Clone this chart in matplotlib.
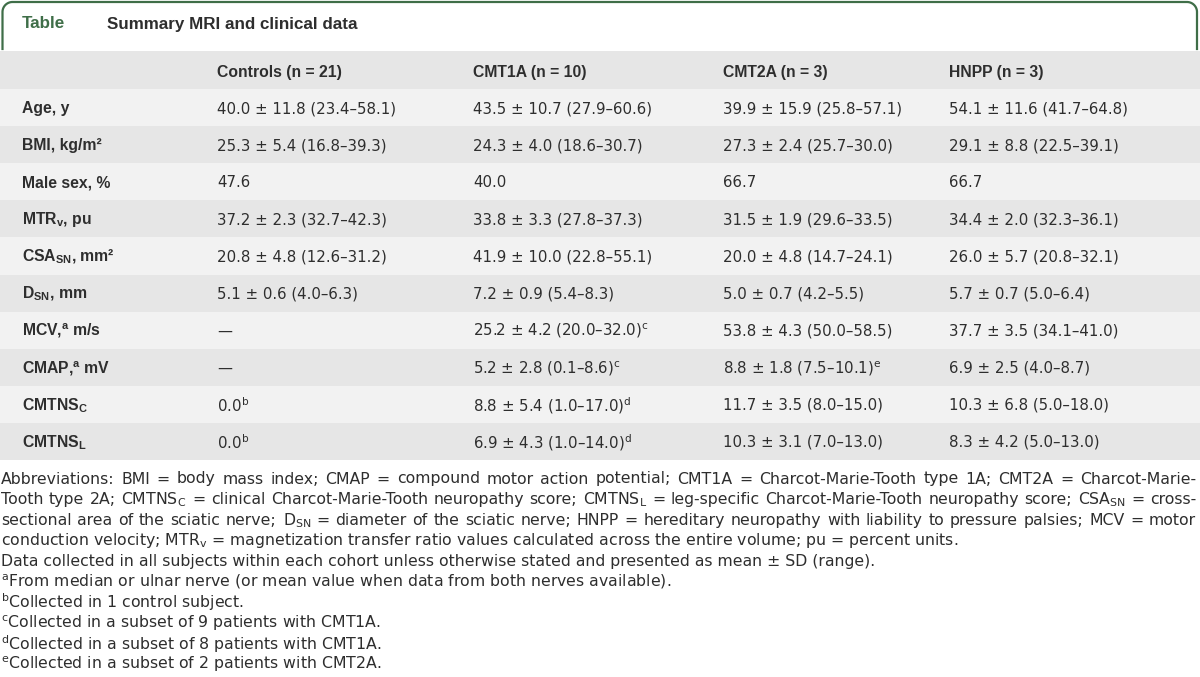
import numpy as np
import matplotlib
matplotlib.use("Agg")
import matplotlib.pyplot as plt
from matplotlib.patches import Rectangle
from matplotlib.lines import Line2D

plt.rcParams['font.family'] = ['DejaVu Sans']
plt.rcParams['mathtext.fontset'] = 'custom'
plt.rcParams['mathtext.rm'] = 'DejaVu Sans'

W, H = 1200, 677
TXT = '#2e2e2e'
GREEN = '#3f6e48'
BOLD_FONT = ['Liberation Sans', 'DejaVu Sans']

# table content
columns = ['Controls (n = 21)', 'CMT1A (n = 10)', 'CMT2A (n = 3)', 'HNPP (n = 3)']
row_labels = [
    'Age, y',
    'BMI, kg/m²',
    'Male sex, %',
    r'MTR$_\mathregular{v}$, pu',
    r'CSA$_\mathregular{SN}$, mm²',
    r'D$_\mathregular{SN}$, mm',
    r'MCV,$^\mathregular{a}$ m/s',
    r'CMAP,$^\mathregular{a}$ mV',
    r'CMTNS$_\mathregular{C}$',
    r'CMTNS$_\mathregular{L}$',
]
controls = ['40.0 ± 11.8 (23.4–58.1)', '25.3 ± 5.4 (16.8–39.3)', '47.6',
            '37.2 ± 2.3 (32.7–42.3)', '20.8 ± 4.8 (12.6–31.2)', '5.1 ± 0.6 (4.0–6.3)',
            '—', '—', r'0.0$^\mathregular{b}$', r'0.0$^\mathregular{b}$']
cmt1a = ['43.5 ± 10.7 (27.9–60.6)', '24.3 ± 4.0 (18.6–30.7)', '40.0',
         '33.8 ± 3.3 (27.8–37.3)', '41.9 ± 10.0 (22.8–55.1)', '7.2 ± 0.9 (5.4–8.3)',
         r'25.2 ± 4.2 (20.0–32.0)$^\mathregular{c}$', r'5.2 ± 2.8 (0.1–8.6)$^\mathregular{c}$',
         r'8.8 ± 5.4 (1.0–17.0)$^\mathregular{d}$', r'6.9 ± 4.3 (1.0–14.0)$^\mathregular{d}$']
cmt2a = ['39.9 ± 15.9 (25.8–57.1)', '27.3 ± 2.4 (25.7–30.0)', '66.7',
         '31.5 ± 1.9 (29.6–33.5)', '20.0 ± 4.8 (14.7–24.1)', '5.0 ± 0.7 (4.2–5.5)',
         '53.8 ± 4.3 (50.0–58.5)', r'8.8 ± 1.8 (7.5–10.1)$^\mathregular{e}$',
         '11.7 ± 3.5 (8.0–15.0)', '10.3 ± 3.1 (7.0–13.0)']
hnpp = ['54.1 ± 11.6 (41.7–64.8)', '29.1 ± 8.8 (22.5–39.1)', '66.7',
        '34.4 ± 2.0 (32.3–36.1)', '26.0 ± 5.7 (20.8–32.1)', '5.7 ± 0.7 (5.0–6.4)',
        '37.7 ± 3.5 (34.1–41.0)', '6.9 ± 2.5 (4.0–8.7)',
        '10.3 ± 6.8 (5.0–18.0)', '8.3 ± 4.2 (5.0–13.0)']

# footnotes: justified paragraph lines, then plain lines
abbrev_lines = [
    'Abbreviations: BMI = body mass index; CMAP = compound motor action potential; CMT1A = Charcot-Marie-Tooth type 1A; CMT2A = Charcot-Marie-',
    r'Tooth type 2A; CMTNS$_\mathregular{C}$ = clinical Charcot-Marie-Tooth neuropathy score; CMTNS$_\mathregular{L}$ = leg-specific Charcot-Marie-Tooth neuropathy score; CSA$_\mathregular{SN}$ = cross-',
    r'sectional area of the sciatic nerve; D$_\mathregular{SN}$ = diameter of the sciatic nerve; HNPP = hereditary neuropathy with liability to pressure palsies; MCV = motor',
    r'conduction velocity; MTR$_\mathregular{v}$ = magnetization transfer ratio values calculated across the entire volume; pu = percent units.',
]
notes = [
    'Data collected in all subjects within each cohort unless otherwise stated and presented as mean ± SD (range).',
    r'$^\mathregular{a}$From median or ulnar nerve (or mean value when data from both nerves available).',
    r'$^\mathregular{b}$Collected in 1 control subject.',
    r'$^\mathregular{c}$Collected in a subset of 9 patients with CMT1A.',
    r'$^\mathregular{d}$Collected in a subset of 8 patients with CMT1A.',
    r'$^\mathregular{e}$Collected in a subset of 2 patients with CMT2A.',
]

fig = plt.figure(figsize=(W / 100, H / 100), dpi=100)
fig.patch.set_facecolor('white')
renderer = fig.canvas.get_renderer()


def fx(x):
    return x / W


def fy(y):
    return 1 - y / H


def put(x, y, s, **kw):
    kw.setdefault('color', TXT)
    kw.setdefault('va', 'center')
    return fig.text(fx(x), fy(y), s, **kw)


def put_bold(x, y, s, size, **kw):
    return put(x, y, s, fontsize=size, fontweight='bold', family=BOLD_FONT, **kw)


# pick bold sizes so that header / title widths match the original
probe = put_bold(0, 0, 'Controls (n = 21)', 10)
bold_size = 10 * 125 / probe.get_window_extent(renderer).width
probe.remove()
probe = put_bold(0, 0, 'Summary MRI and clinical data', 10)
title_size = 10 * 250 / probe.get_window_extent(renderer).width
probe.remove()

# green frame with rounded top corners
r = 10
left, right, top, bot = 2.5, 1197, 2, 49
th = np.linspace(np.pi, np.pi / 2, 20)
xs = [left, left] + list(left + r + r * np.cos(th)) + list(right - r - r * np.cos(th[::-1])) + [right]
ys = [bot, top + r] + list(top + r - r * np.sin(th)) + list(top + r - r * np.sin(th[::-1])) + [bot]
fig.add_artist(Line2D([fx(v) for v in xs], [fy(v) for v in ys], color=GREEN, lw=1.6,
                      transform=fig.transFigure))

put_bold(22, 24, 'Table', title_size, color=GREEN)
put_bold(107, 24, 'Summary MRI and clinical data', title_size)

# header band and rows
row_h = 37.1
head_top, head_bot = 51, 89
fig.add_artist(Rectangle((0, fy(head_bot)), 1, (head_bot - head_top) / H,
                         transform=fig.transFigure, color='#e6e6e6', lw=0))
col_x = [217, 473, 723, 949]
for cx, name in zip(col_x, columns):
    put_bold(cx, 72, name, bold_size)

data_cols = [controls, cmt1a, cmt2a, hnpp]
for i, lab in enumerate(row_labels):
    y0 = head_bot + i * row_h
    fig.add_artist(Rectangle((0, fy(y0 + row_h)), 1, row_h / H, transform=fig.transFigure,
                             color='#f2f2f2' if i % 2 == 0 else '#e6e6e6', lw=0))
    yc = y0 + row_h / 2 + 1
    put_bold(22, yc, lab, bold_size)
    for cx, col in zip(col_x, data_cols):
        put(cx, yc, col[i], fontsize=10.8)

# footnotes
fs_note = 11.3
x_start, x_end = 1, 1196
line_y = 479
step = 20.6
for k, line in enumerate(abbrev_lines):
    y = line_y + k * step
    if k == len(abbrev_lines) - 1:
        put(x_start, y, line, fontsize=fs_note)
        continue
    words = line.split(' ')
    arts = [put(0, y, w, fontsize=fs_note) for w in words]
    widths = [a.get_window_extent(renderer).width for a in arts]
    gap = (x_end - x_start - sum(widths)) / (len(words) - 1)
    x = x_start
    for a, w in zip(arts, widths):
        a.set_x(fx(x))
        x += w + gap

for k, note in enumerate(notes):
    put(x_start, line_y + (len(abbrev_lines) + k) * step, note, fontsize=fs_note)

fig.savefig('out.png', dpi=100)
